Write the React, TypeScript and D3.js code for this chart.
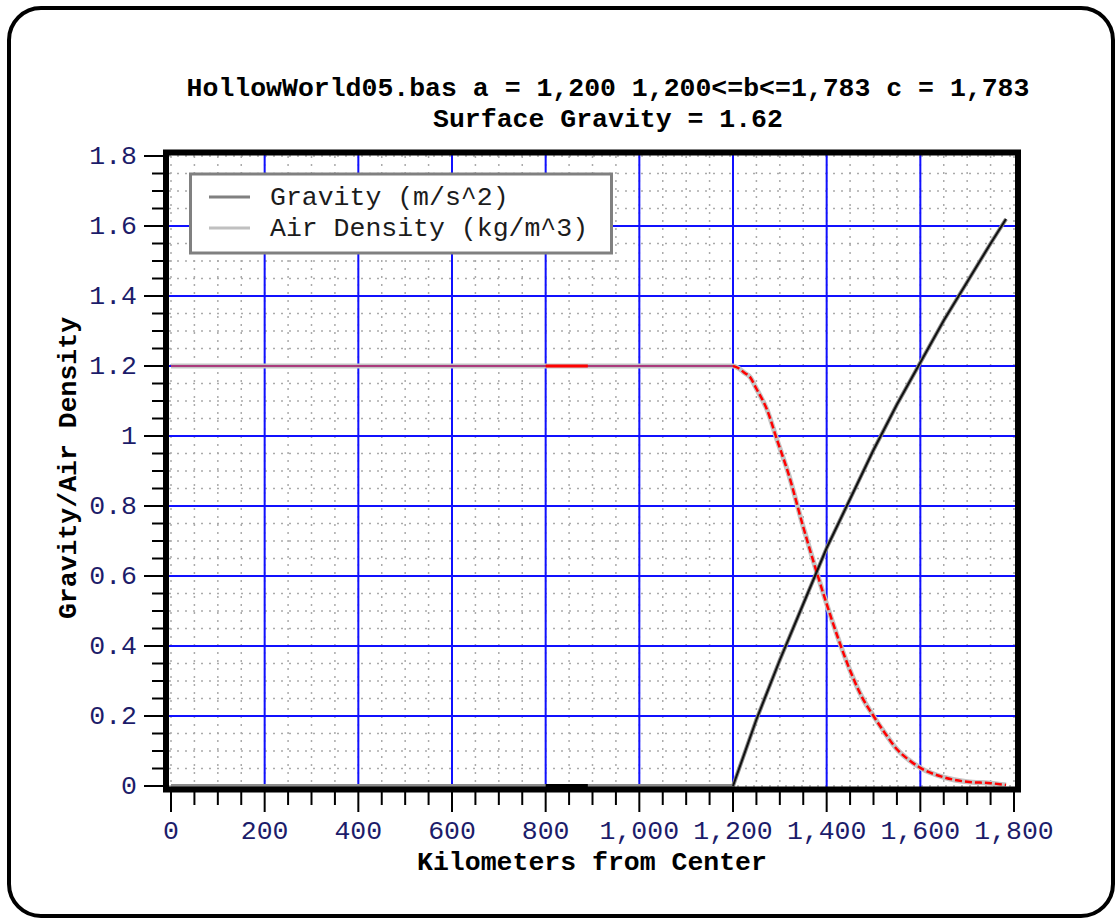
import React from "react";
import * as d3 from "d3";

const titleLines = ["HollowWorld05.bas a = 1,200 1,200<=b<=1,783 c = 1,783", "Surface Gravity = 1.62"];
const xLabel = "Kilometers from Center";
const yLabel = "Gravity/Air Density";
const seriesNames = ["Gravity (m/s^2)", "Air Density (kg/m^3)"];

const xTicks = [0, 200, 400, 600, 800, 1000, 1200, 1400, 1600, 1800];
const yTicks = [0, 0.2, 0.4, 0.6, 0.8, 1, 1.2, 1.4, 1.6, 1.8];

const gravityKm = [0, 1200, 1250, 1300, 1350, 1400, 1450, 1500, 1550, 1600, 1650, 1700, 1750, 1783];
const gravityVal = [0, 0, 0.19, 0.36, 0.52, 0.68, 0.82, 0.96, 1.09, 1.21, 1.33, 1.44, 1.55, 1.62];

const densityKm = [0, 1200, 1210, 1225, 1236, 1250, 1273, 1294, 1318, 1350, 1375, 1400, 1425, 1450, 1475, 1500, 1525, 1550, 1575, 1600, 1650, 1700, 1750, 1783];
const densityVal = [1.2, 1.2, 1.195, 1.18, 1.169, 1.135, 1.074, 0.989, 0.894, 0.74, 0.627, 0.52, 0.42, 0.33, 0.255, 0.2, 0.15, 0.105, 0.075, 0.052, 0.025, 0.012, 0.008, 0.003];

const FONT = "'Liberation Mono', 'DejaVu Sans Mono', monospace";
const FS = 26.5;

export default function App() {
  const x = d3.scaleLinear().domain([0, 1800]).range([171, 1014]);
  const y = d3.scaleLinear().domain([0, 1.8]).range([786, 156]);

  const grav = gravityKm.map((k, i) => [k, gravityVal[i]] as [number, number]);
  const dens = densityKm.map((k, i) => [k, densityVal[i]] as [number, number]);
  const smooth = d3.line<[number, number]>().x(d => x(d[0])).y(d => y(d[1])).curve(d3.curveMonotoneX);
  const straight = d3.line<[number, number]>().x(d => x(d[0])).y(d => y(d[1]));

  const minorX = d3.range(0, 1801, 50);
  const minorY = d3.range(0, 37).map(i => i * 0.05);
  const densFlat = dens.filter(d => d[0] <= 1200);
  const densCurve = dens.filter(d => d[0] >= 1200);

  const fmt = d3.format(",");

  return (
    <svg width={1115} height={919} style={{ position: "absolute", left: 0, top: 0 }}>
      <rect x={9} y={8} width={1104} height={908} rx={32} fill="white" stroke="black" strokeWidth={4} />
      {titleLines.map((t, i) => (
        <text key={i} x={608} y={96 + i * 31} textAnchor="middle" fontFamily={FONT} fontWeight="bold" fontSize={FS} fill="black">{t}</text>
      ))}
      {/* minor grid */}
      {minorX.map(v => (
        <line key={"mx" + v} x1={x(v)} x2={x(v)} y1={156} y2={786} stroke="#aaaaaa" strokeWidth={1.5} strokeDasharray="2,6" />
      ))}
      {minorY.map(v => (
        <line key={"my" + v} x1={169} x2={1015} y1={y(v)} y2={y(v)} stroke="#aaaaaa" strokeWidth={1.5} strokeDasharray="2,6" />
      ))}
      {/* major grid */}
      {xTicks.filter(v => v > 0 && v < 1800).map(v => (
        <line key={"gx" + v} x1={x(v)} x2={x(v)} y1={155} y2={787} stroke="#1010ff" strokeWidth={2} />
      ))}
      {yTicks.filter(v => v > 0 && v < 1.8).map(v => (
        <line key={"gy" + v} x1={169} x2={1015} y1={y(v)} y2={y(v)} stroke="#1010ff" strokeWidth={2} />
      ))}
      {/* data underlays */}
      <path d={smooth(dens) || ""} fill="none" stroke="#c4c4c4" strokeWidth={5} />
      <path d={straight(grav) || ""} fill="none" stroke="#8c8c8c" strokeWidth={4} />
      {/* data foreground */}
      <path d={straight(densFlat) || ""} fill="none" stroke="#a00060" strokeOpacity={0.7} strokeWidth={2} />
      <path d={smooth(densCurve) || ""} fill="none" stroke="#ff0000" strokeWidth={2.5} strokeDasharray="7,3" />
      <path d={straight(grav.filter(d => d[0] >= 1200)) || ""} fill="none" stroke="#111" strokeWidth={2} />
      <line x1={x(800)} x2={x(890)} y1={y(1.2)} y2={y(1.2)} stroke="#ff0000" strokeWidth={3} />
      <line x1={x(800)} x2={x(890)} y1={y(0)} y2={y(0)} stroke="#000" strokeWidth={4} />
      {/* frame */}
      <rect x={166} y={152.5} width={852} height={637} fill="none" stroke="black" strokeWidth={6} />
      {/* x ticks */}
      {minorX.map(v => (
        <line key={"tx" + v} x1={x(v)} x2={x(v)} y1={792} y2={v % 200 === 0 ? 812 : 805} stroke="black" strokeWidth={2} />
      ))}
      {xTicks.map(v => (
        <text key={"lx" + v} x={x(v)} y={839} textAnchor="middle" fontFamily={FONT} fontSize={FS} fill="#1c1c6a">{fmt(v)}</text>
      ))}
      {/* y ticks */}
      {minorY.map((v, i) => (
        <line key={"ty" + i} x1={i % 4 === 0 ? 144 : 152} x2={163} y1={y(v)} y2={y(v)} stroke="black" strokeWidth={2} />
      ))}
      {yTicks.map(v => (
        <text key={"ly" + v} x={137} y={y(v) + 8} textAnchor="end" fontFamily={FONT} fontSize={FS} fill="#1c1c6a">{String(Math.round(v * 10) / 10)}</text>
      ))}
      <text x={592} y={870} textAnchor="middle" fontFamily={FONT} fontWeight="bold" fontSize={FS} fill="black">{xLabel}</text>
      <text transform={`translate(76,468) rotate(-90)`} textAnchor="middle" fontFamily={FONT} fontWeight="bold" fontSize={FS} fill="black">{yLabel}</text>
      {/* legend */}
      <rect x={190.5} y={174} width={421} height={79} fill="white" stroke="#808080" strokeWidth={3} />
      <line x1={209} x2={250} y1={197} y2={197} stroke="#808080" strokeWidth={3} />
      <line x1={209} x2={250} y1={228} y2={228} stroke="#c0c0c0" strokeWidth={3} />
      {seriesNames.map((s, i) => (
        <text key={s} x={270} y={205 + i * 31} fontFamily={FONT} fontSize={FS} fill="#1c1c1c">{s}</text>
      ))}
    </svg>
  );
}
